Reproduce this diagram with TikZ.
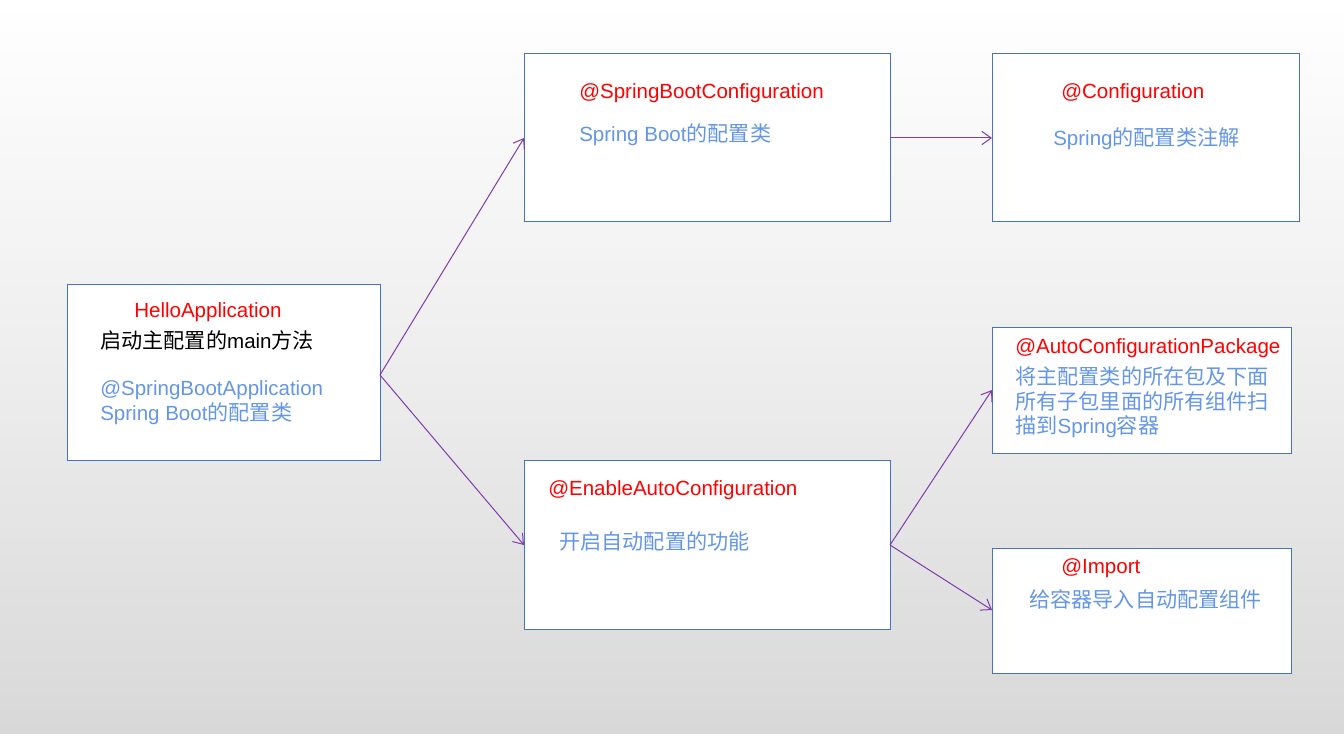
\documentclass[tikz,border=0pt]{standalone}
\usepackage{fontspec}
\setmainfont{Liberation Sans}
\newfontfamily\cjk{Noto Sans CJK SC}[Scale=1.03]
\usetikzlibrary{arrows.meta}
\definecolor{boxblue}{RGB}{68,114,196}
\definecolor{txtblue}{RGB}{100,150,232}
\definecolor{arrpurple}{RGB}{128,60,170}
\definecolor{bgbottom}{RGB}{216,216,216}
\newcommand{\zh}[1]{{\cjk #1}}
\begin{document}
\begin{tikzpicture}[x=0.75pt,y=-0.75pt,
  box/.style={draw=boxblue,line width=0.7pt,fill=white},
  lbl/.style={anchor=base west,inner sep=0pt,font=\fontsize{15.4}{18}\selectfont},
  red/.style={lbl,text=red},
  blu/.style={lbl,text=txtblue},
  blk/.style={lbl,text=black},
  conn/.style={draw=arrpurple,line width=0.75pt,-{Straight Barb[length=7pt,width=10pt]}}]
\shade[top color=white,bottom color=bgbottom,middle color=white!55!bgbottom] (0,0) rectangle (1344,734);
\useasboundingbox (0,0) rectangle (1344,734);
% boxes
\path[box] (67,284) rectangle (380,460);
\path[box] (524,53) rectangle (890,221);
\path[box] (992,53) rectangle (1299,221);
\path[box] (524,460) rectangle (890,629);
\path[box] (992,327) rectangle (1291,453);
\path[box] (992,548) rectangle (1291,673);
\coordinate (helloE) at (380,375);
\coordinate (sbcW) at (524,138);
\coordinate (sbcE) at (890,138);
\coordinate (cfgW) at (992,138);
\coordinate (eacW) at (524,545);
\coordinate (eacE) at (890,545);
\coordinate (acpW) at (992,390);
\coordinate (impW) at (992,610);
% texts
\node[red] (t1) at (134,317) {HelloApplication};
\node[blk] (t2) at (100,348) {\zh{启动主配置的}main\zh{方法}};
\node[blu] (t3) at (100,395) {@SpringBootApplication};
\node[blu] (t4) at (100,420) {Spring Boot\zh{的配置类}};
\node[red] (t5) at (579,99) {@SpringBootConfiguration};
\node[blu] (t6) at (579,142) {Spring Boot\zh{的配置类}};
\node[red] (t7) at (1061,99) {@Configuration};
\node[blu] (t8) at (1053,146) {Spring\zh{的配置类注解}};
\node[red] (t9) at (1015,353) {@AutoConfigurationPackage};
\node[blu] (t10) at (1015,384) {\zh{将主配置类的所在包及下面}};
\node[blu] (t11) at (1015,409) {\zh{所有子包里面的所有组件扫}};
\node[blu] (t12) at (1015,433) {\zh{描到}Spring\zh{容器}};
\node[red] (t13) at (548,495) {@EnableAutoConfiguration};
\node[blu] (t14) at (559,549) {\zh{开启自动配置的功能}};
\node[red] (t15) at (1061,573) {@Import};
\node[blu] (t16) at (1029,607) {\zh{给容器导入自动配置组件}};
% connectors
\draw[conn] (helloE) -- (sbcW);
\draw[conn] (helloE) -- (eacW);
\draw[conn] (sbcE) -- (cfgW);
\draw[conn] (eacE) -- (acpW);
\draw[conn] (eacE) -- (impW);
\end{tikzpicture}
\end{document}
